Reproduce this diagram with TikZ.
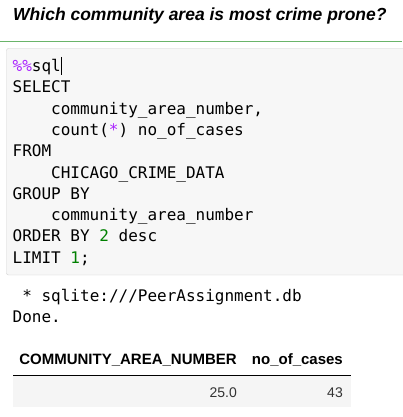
\documentclass[tikz,border=0pt]{standalone}
\usepackage{fontspec}
\setmainfont{Liberation Sans}
\setmonofont{DejaVu Sans Mono}
\definecolor{rulegreen}{HTML}{6AB46A}
\definecolor{cellbg}{HTML}{F7F7F7}
\definecolor{cellborder}{HTML}{CFCFCF}
\definecolor{magicpurple}{HTML}{AA22FF}
\definecolor{numgreen}{HTML}{008000}
\definecolor{rowbg}{HTML}{F5F5F5}
\newcommand{\codefont}{\ttfamily\fontsize{16}{16}\selectfont}
\begin{document}
\begin{tikzpicture}[x=1pt,y=-1pt,inner sep=0pt]

        \useasboundingbox (0,0) rectangle (402,417);

        \node[anchor=base west,font=\bfseries\itshape\fontsize{17.5}{17.5}\selectfont] (title) at (13,21) {Which community area is most crime prone?};
        \draw[rulegreen,line width=1pt] (0,41.5) -- (402,41.5);

        % code cell
        \draw[cellborder,fill=cellbg,rounded corners=2pt] (6.5,48.5) rectangle (410,275);

        \begin{scope}[every node/.style={anchor=base west,font=\codefont}]
          \node (sql)     at (12.5,71.75)  {\textcolor{magicpurple}{\%\%}sql};
          \node (select)  at (12.5,93)     {SELECT};
          \node (col)     at (51,114.25)   {community\_area\_number,};
          \node (count)   at (51,135.5)    {count(\textcolor{magicpurple}{*}) no\_of\_cases};
          \node (from)    at (12.5,156.75) {FROM};
          \node (table)   at (51,178)      {CHICAGO\_CRIME\_DATA};
          \node (group)   at (12.5,199.25) {GROUP BY};
          \node (groupby) at (51,220.5)    {community\_area\_number};
          \node (order)   at (12.5,241.75) {ORDER BY \textcolor{numgreen}{2} desc};
          \node (limit)   at (12.5,263)    {LIMIT \textcolor{numgreen}{1};};

          \node (conn)    at (12.5,301)    {\ * sqlite:///PeerAssignment.db};
          \node (done)    at (12.5,322)    {Done.};
        \end{scope}
        \draw[line width=0.8pt] (61,57) -- (61,75);

        % result table
        \fill[rowbg] (13,375) rectangle (351,407);
        \draw[line width=1pt] (13,375) -- (351,375);

        \begin{scope}[every node/.style={anchor=base east,font=\fontsize{14}{14}\selectfont}]
          \node[font=\bfseries\fontsize{15}{15}\selectfont] (hnum)   at (237,364) {COMMUNITY\_AREA\_NUMBER};
          \node[font=\bfseries\fontsize{15}{15}\selectfont] (hcases) at (343,364) {no\_of\_cases};
          \node[text=black!80] (vnum)   at (237,397) {25.0};
          \node[text=black!80] (vcases) at (343,397) {43};
        \end{scope}

\end{tikzpicture}
\end{document}
